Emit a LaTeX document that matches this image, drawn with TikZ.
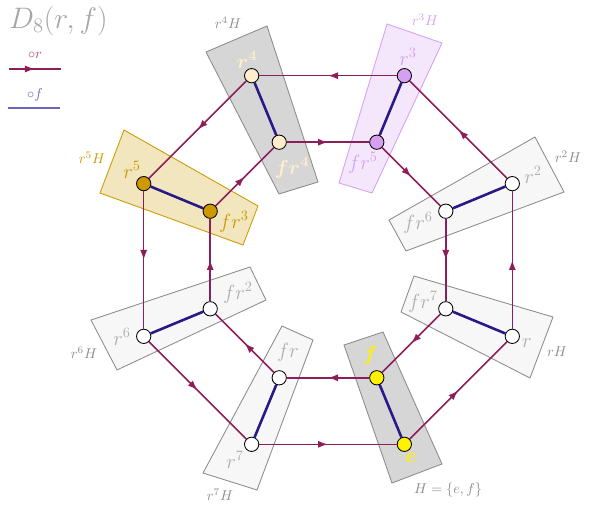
\documentclass[tikz,border=0pt]{standalone}
\usepackage{amsmath}
\usepackage{xcolor}
\usepackage{tikz}
\usetikzlibrary{arrows.meta, decorations.markings}
\definecolor{dihpurple}{RGB}{140,30,90}
\definecolor{dihnavy}{RGB}{40,25,135}
\definecolor{dihslate}{RGB}{110,100,190}
\definecolor{cosetgold}{RGB}{204,153,0}
\definecolor{cosetviolet}{RGB}{214,160,240}
\definecolor{cosetcream}{RGB}{255,238,204}
\definecolor{cosetgray}{RGB}{140,140,140}
\definecolor{elemgray}{RGB}{175,175,175}
\tikzset{
  elem/.style={circle, draw=black, line width=0.6pt, minimum size=10pt, inner sep=0pt},
  redge/.style={color=dihpurple, line width=1.1pt, postaction={decorate},
    decoration={markings, mark=at position 0.5 with {\arrow{Latex[length=7pt,width=5pt]}}}},
  fedge/.style={draw=dihnavy, line width=1.8pt},
  elabel/.style={font=\Large},
  clabel/.style={text=cosetgray},
}

\begin{document}
\begin{tikzpicture}[x=0.7pt, y=0.7pt]
        \useasboundingbox (-328,-251) rectangle (274,260);
        \draw[fill=gray!32, draw=gray!90, line width=0.6pt] (16,-85) -- (55,-72) -- (114,-204) -- (64,-223) -- cycle;
        \draw[fill=gray!32, draw=gray!90, line width=0.6pt] (-122,208) -- (-61,234) -- (-10,78) -- (-49,66) -- cycle;
        \draw[fill=cosetviolet!25, draw=cosetviolet, line width=0.6pt] (59,236) -- (114,217) -- (44,67) -- (11,77) -- cycle;
        \draw[fill=gray!6, draw=gray!90, line width=0.6pt] (207,123) -- (236,68) -- (78,9) -- (61,40) -- cycle;
        \draw[fill=gray!6, draw=gray!90, line width=0.6pt] (86,-16) -- (225,-57) -- (202,-118) -- (73,-52) -- cycle;
        \draw[fill=cosetgold!25, draw=cosetgold, line width=0.6pt] (-204,130) -- (-70,54) -- (-85,15) -- (-228,67) -- cycle;
        \draw[fill=gray!6, draw=gray!90, line width=0.6pt] (-237,-60) -- (-78,-7) -- (-62,-40) -- (-211,-110) -- cycle;
        \draw[fill=gray!6, draw=gray!90, line width=0.6pt] (-46,-66) -- (-15,-80) -- (-71,-230) -- (-125,-213) -- cycle;

        \foreach \k/\c in {0/yellow,1/white,2/white,3/cosetviolet,4/cosetcream,5/cosetgold,6/white,7/white}
          \node[elem, fill=\c] (r\k) at (-67.5+45*\k:199.5) {};
        \foreach \k/\c in {0/yellow,1/white,2/white,3/cosetgold,4/cosetcream,5/cosetviolet,6/white,7/white}
          \node[elem, fill=\c] (fr\k) at (-67.5-45*\k:127.5) {};
        \foreach \k in {0,...,7} {
          \pgfmathtruncatemacro{\nxt}{mod(\k+1,8)}
          \pgfmathtruncatemacro{\inv}{mod(8-\k,8)}
          \draw[redge] (r\k) -- (r\nxt);
          \draw[redge] (fr\k) -- (fr\nxt);
          \draw[fedge] (r\k) -- (fr\inv);
        }

        \node[elabel, text=yellow] (labe) at (83,-198) {$\boldsymbol{e}$};
        \node[elabel, text=yellow] (labf) at (42,-95) {$\boldsymbol{f}$};
        \node[elabel, text=cosetcream] (labr4) at (-81,200) {$\boldsymbol{r^4}$};
        \node[elabel, text=cosetcream] (labfr4) at (-36,92) {$\boldsymbol{fr^4}$};
        \node[elabel, text=cosetviolet] (labr3) at (80,203) {$r^3$};
        \node[elabel, text=cosetviolet] (labfr5) at (35,97) {$fr^5$};
        \node[elabel, text=cosetgold] (labr5) at (-196,90) {$r^5$};
        \node[elabel, text=cosetgold] (labfr3) at (-94,38) {$fr^3$};
        \node[elabel, text=elemgray] (labr2) at (205,85) {$r^2$};
        \node[elabel, text=elemgray] (labfr6) at (90,37) {$fr^6$};
        \node[elabel, text=elemgray] (labr1) at (199,-83) {$r$};
        \node[elabel, text=elemgray] (labfr7) at (95,-42) {$fr^7$};
        \node[elabel, text=elemgray] (labr6) at (-206,-77) {$r^6$};
        \node[elabel, text=elemgray] (labfr2) at (-90,-33) {$fr^2$};
        \node[elabel, text=elemgray] (labr7) at (-93,-200) {$r^7$};
        \node[elabel, text=elemgray] (labfr1) at (-40,-92) {$fr$};

        \node[clabel] (cosr0) at (120,-230) {$H=\{e,f\}$};
        \node[clabel] (cosr1) at (229,-92) {$rH$};
        \node[clabel] (cosr2) at (240,103) {$r^2H$};
        \node[clabel, text=cosetviolet] (cosr3) at (97,240) {$r^3H$};
        \node[clabel] (cosr4) at (-100,237) {$r^4H$};
        \node[clabel, text=cosetgold] (cosr5) at (-236,102) {$r^5H$};
        \node[clabel] (cosr6) at (-244,-93) {$r^6H$};
        \node[clabel] (cosr7) at (-108,-235) {$r^7H$};

        \node[anchor=west, text=gray!70, font=\huge] (title) at (-324,239) {$D_8(r,f)$};
        \node[text=dihpurple!80] (legr) at (-293,205) {$\circ r$};
        \coordinate (legra) at (-319,191);
        \coordinate (legrb) at (-267,191);
        \draw[redge] (legra) -- (legrb);
        \node[text=dihslate] (legf) at (-293,165) {$\circ f$};
        \coordinate (legfa) at (-320,152);
        \coordinate (legfb) at (-268,152);
        \draw[dihslate, line width=1.2pt] (legfa) -- (legfb);
      \end{tikzpicture}
\end{document}
